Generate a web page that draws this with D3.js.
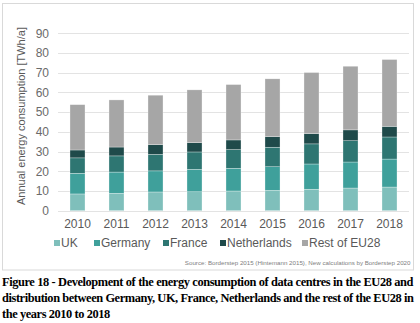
<!DOCTYPE html>
<html>
<head>
<meta charset="utf-8">
<script src="https://cdn.jsdelivr.net/npm/d3@7"></script>
<style>
  body { margin: 0; background: #fff; }
  .caption {
    position: absolute; left: 2px; top: 274px; width: 411px;
    font-family: "Liberation Serif", "Times New Roman", serif;
    font-weight: bold; font-size: 12.4px; line-height: 16.2px;
    letter-spacing: -0.42px; color: #000;
  }
  .caption div { white-space: nowrap; }
  .caption .just { text-align: justify; text-align-last: justify; }
</style>
</head>
<body>
<svg class="chart" width="420" height="274"></svg>
<div class="caption">
  <div class="just">Figure 18 - Development of the energy consumption of data centres in the EU28 and</div>
  <div class="just">distribution between Germany, UK, France, Netherlands and the rest of the EU28 in</div>
  <div>the years 2010 to 2018</div>
</div>
<script>
var years = ["2010", "2011", "2012", "2013", "2014", "2015", "2016", "2017", "2018"];
var seriesNames = ["UK", "Germany", "France", "Netherlands", "Rest of EU28"];
var uk = [8.5, 8.8, 9.5, 9.6, 10.0, 10.3, 10.9, 11.5, 12.0];
var germany = [10.5, 10.8, 10.7, 11.4, 11.5, 12.0, 12.8, 13.2, 14.2];
var france = [7.8, 8.2, 8.4, 8.8, 9.5, 9.9, 10.2, 10.8, 11.2];
var netherlands = [4.0, 4.5, 4.9, 4.7, 4.9, 5.4, 5.2, 5.5, 5.4];
var restOfEU = [23.0, 23.9, 25.1, 26.8, 28.1, 29.3, 31.0, 32.3, 33.9];
var yTicks = [0, 10, 20, 30, 40, 50, 60, 70, 80, 90];

var colors = ["#7fbfbb", "#3fa09b", "#2e7672", "#1f4a4a", "#a6a6a6"];

var rows = years.map(function(year, i) {
  return {
    year: year,
    "UK": uk[i],
    "Germany": germany[i],
    "France": france[i],
    "Netherlands": netherlands[i],
    "Rest of EU28": restOfEU[i]
  };
});

var svg = d3.select("svg.chart");
var font = "Arial, 'Liberation Sans', sans-serif";

// outer frame
svg.append("rect")
  .attr("x", 2.5).attr("y", 3.5)
  .attr("width", 411).attr("height", 266.5)
  .attr("fill", "none")
  .attr("stroke", "#d9d9d9");

var x = d3.scaleBand()
  .domain(years)
  .range([58, 409])
  .paddingInner(0.615)
  .paddingOuter(0.3075);

var y = d3.scaleLinear()
  .domain([0, 90])
  .range([210.7, 33.3]);

// gridlines
svg.append("g")
  .selectAll("line")
  .data(yTicks)
  .enter()
  .append("line")
  .attr("x1", 58).attr("x2", 409)
  .attr("y1", function(d) { return Math.round(y(d)) + 0.5; })
  .attr("y2", function(d) { return Math.round(y(d)) + 0.5; })
  .attr("stroke", "#e3e3e3");

// y axis labels
var yAxis = d3.axisLeft(y).tickValues(yTicks).tickSize(0).tickPadding(0);
svg.append("g")
  .attr("transform", "translate(49,0)")
  .call(yAxis)
  .call(function(g) {
    g.select(".domain").remove();
    g.selectAll("text")
      .attr("fill", "#6a6a6a")
      .style("font-family", font)
      .style("font-size", "12px");
  });

// x axis labels
var xAxis = d3.axisBottom(x).tickSize(0).tickPadding(0);
svg.append("g")
  .attr("transform", "translate(0,219)")
  .call(xAxis)
  .call(function(g) {
    g.select(".domain").remove();
    g.selectAll("text")
      .attr("fill", "#595959")
      .style("font-family", font)
      .style("font-size", "12px");
  });

// y axis title
svg.append("text")
  .attr("transform", "translate(25,116) rotate(-90)")
  .attr("text-anchor", "middle")
  .attr("fill", "#595959")
  .style("font-family", font)
  .style("font-size", "11px")
  .text("Annual energy consumption [TWh/a]");

// stacked bars
var stacked = d3.stack().keys(seriesNames)(rows);

svg.append("g")
  .selectAll("g")
  .data(stacked)
  .enter()
  .append("g")
  .attr("fill", function(d, i) { return colors[i]; })
  .selectAll("rect")
  .data(function(d) { return d; })
  .enter()
  .append("rect")
  .attr("x", function(d) { return x(d.data.year); })
  .attr("width", x.bandwidth())
  .attr("y", function(d) { return y(d[1]); })
  .attr("height", function(d) { return y(d[0]) - y(d[1]); })
  .attr("stroke", "#ffffff")
  .attr("stroke-opacity", 0.6)
  .attr("stroke-width", 0.5);

// legend
var legendX = [54, 94, 163, 220, 302];
var legend = svg.append("g")
  .selectAll("g")
  .data(seriesNames)
  .enter()
  .append("g")
  .attr("transform", function(d, i) { return "translate(" + legendX[i] + ",243)"; });

legend.append("rect")
  .attr("x", 0).attr("y", -3)
  .attr("width", 6).attr("height", 6)
  .attr("fill", function(d, i) { return colors[i]; });

legend.append("text")
  .attr("x", 7)
  .attr("dy", "0.35em")
  .attr("fill", "#595959")
  .style("font-family", font)
  .style("font-size", "12px")
  .text(function(d) { return d; });

// source note
svg.append("text")
  .attr("x", 410.5)
  .attr("y", 265)
  .attr("text-anchor", "end")
  .attr("fill", "#808080")
  .style("font-family", font)
  .style("font-size", "6.2px")
  .text("Source: Borderstep 2015 (Hintemann 2015), New calculations by Borderstep 2020");
</script>
</body>
</html>
